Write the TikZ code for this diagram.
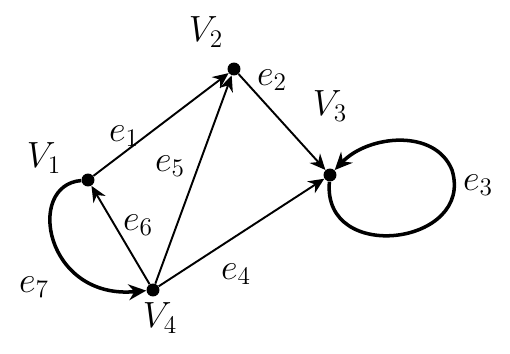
\documentclass[tikz,border=0pt]{standalone}
\usetikzlibrary{arrows.meta}
\tikzset{
  vtx/.style={circle,fill,inner sep=2.6pt},
  edge/.style={line width=1.1pt,-{Stealth[length=9pt,width=8pt]}},
  loopedge/.style={line width=2pt,-{Stealth[length=10pt,width=9pt]}},
  lbl/.style={font=\fontsize{22}{24}\selectfont},
  elbl/.style={font=\fontsize{20}{22}\selectfont}
}
\begin{document}
\begin{tikzpicture}[x=.02cm,y=-.02cm]
\useasboundingbox (0,0) rectangle (510,354);
\node[vtx] (v1) at (88,180){};
\node[vtx] (v2) at (234,69){};
\node[vtx] (v3) at (330,175){};
\node[vtx] (v4) at (153,290){};
\foreach \n/\p/\t in {l1/{44,158}/1,l2/{206,32}/2,l3/{330,106}/3,l4/{160,318}/4}{\node[lbl] (\n) at (\p){$V_{\t}$};}
\draw[edge] (v1) -- (v2);
\draw[edge] (v4) -- (v2);
\draw[edge] (v2) -- (v3);
\draw[edge] (v4) -- (v3);
\draw[edge] (v4) -- (v1);
\draw[loopedge] (v1) .. controls (25,185) and (45,300) .. (v4);
\draw[loopedge] (v3) .. controls (322,265) and (475,245) .. (452,170) .. controls (435,128) and (368,135) .. (v3);
\foreach \n/\p/\t in {e1/{124,136}/1,e2/{272,80}/2,e3/{478,185}/3,e4/{236,274}/4,e5/{170,166}/5,e6/{138,225}/6,e7/{34,287}/7}{\node[elbl] (\n) at (\p){$e_{\t}$};}
\end{tikzpicture}
\end{document}
